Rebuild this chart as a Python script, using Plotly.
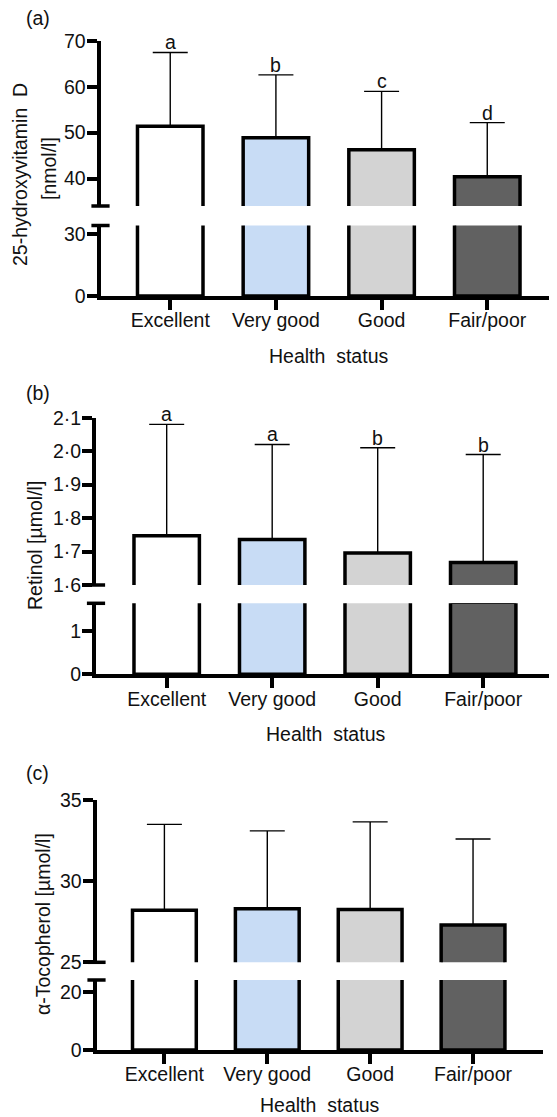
import plotly.graph_objects as go

W, H = 557, 1117
OFF = 8  # page body margin
FW, FH = W - OFF, H - OFF

categories = ["Excellent", "Very good", "Good", "Fair/poor"]
bar_colors = ["#FFFFFF", "#C8DCF5", "#D3D3D3", "#616161"]

# (a) 25-hydroxyvitamin D
vitd_mean = [51.4, 48.9, 46.3, 40.4]
vitd_sd = [16.1, 13.7, 12.7, 11.8]
vitd_letters = ["a", "b", "c", "d"]

# (b) Retinol
retinol_mean = [1.747, 1.736, 1.696, 1.667]
retinol_sd = [0.333, 0.284, 0.314, 0.323]
retinol_letters = ["a", "a", "b", "b"]

# (c) alpha-Tocopherol
toco_mean = [28.2, 28.3, 28.25, 27.3]
toco_sd = [5.3, 4.8, 5.4, 5.3]
toco_letters = ["", "", "", ""]

# axis ticks
a_up_ticks = [40, 50, 60, 70]
a_up_text = ["40", "50", "60", "70"]
a_lo_ticks = [0, 30]
a_lo_text = ["0", "30"]
a_breaks = [34, 34.3]   # upper-segment bottom, lower-segment top

b_up_ticks = [1.6, 1.7, 1.8, 1.9, 2.0, 2.1]
b_up_text = ["1·6", "1·7", "1·8", "1·9", "2·0", "2·1"]
b_lo_ticks = [0, 1]
b_lo_text = ["0", "1"]
b_breaks = [1.6, 1.64]

c_up_ticks = [25, 30, 35]
c_up_text = ["25", "30", "35"]
c_lo_ticks = [0, 20]
c_lo_text = ["0", "20"]
c_breaks = [25, 24.3]

FONT = "Liberation Sans, Arial, sans-serif"
FS = 19.5
INK = "#111111"


def px(x):
    return (x - OFF) / FW


def py(y):
    return 1 - (y - OFF) / FH


panels = [
    dict(mean=vitd_mean, sd=vitd_sd, letters=vitd_letters, breaks=a_breaks,
         up_range=[34, 70], lo_range=[0, 34.3],
         up_ticks=a_up_ticks, up_text=a_up_text, lo_ticks=a_lo_ticks, lo_text=a_lo_text,
         up_dom=[py(206), py(41)], lo_dom=[py(296), py(225.5)],
         xdom=[px(100.5), px(557)], xrange=[-0.66, 3.66],
         label="(a)", label_y=18, xtitle_y=355.5, xtitle_x=328.5,
         ytitles=[("25-hydroxyvitamin  D", 20, 175), ("[nmol/l]", 49, 169)]),
    dict(mean=retinol_mean, sd=retinol_sd, letters=retinol_letters, breaks=b_breaks,
         up_range=[1.6, 2.1], lo_range=[0, 1.64],
         up_ticks=b_up_ticks, up_text=b_up_text, lo_ticks=b_lo_ticks, lo_text=b_lo_text,
         up_dom=[py(585), py(417.7)], lo_dom=[py(674.3), py(603.3)],
         xdom=[px(96), px(556)], xrange=[-0.67, 3.69],
         label="(b)", label_y=393, xtitle_y=734, xtitle_x=325,
         ytitles=[("Retinol [µmol/l]", 35, 546)]),
    dict(mean=toco_mean, sd=toco_sd, letters=toco_letters, breaks=c_breaks,
         up_range=[25, 35], lo_range=[0, 24.3],
         up_ticks=c_up_ticks, up_text=c_up_text, lo_ticks=c_lo_ticks, lo_text=c_lo_text,
         up_dom=[py(962.3), py(800)], lo_dom=[py(1050), py(980)],
         xdom=[px(96.5), px(543)], xrange=[-0.66, 3.68],
         label="(c)", label_y=773, xtitle_y=1105, xtitle_x=319,
         ytitles=[("α-Tocopherol [µmol/l]", 43, 924)]),
]

fig = go.Figure()
layout = {}
annotations = []

for i, p in enumerate(panels):
    xn = "" if i == 0 else str(i + 1)
    yu = str(2 * i + 1) if i > 0 else ""
    yl = str(2 * i + 2)
    xref = "x" + xn
    yu_ref = "y" + yu
    yl_ref = "y" + yl
    idx = list(range(len(categories)))

    # lower segment bars
    fig.add_trace(go.Bar(
        x=idx, y=p["mean"], xaxis=xref, yaxis=yl_ref, width=0.62,
        marker=dict(color=bar_colors, line=dict(color="black", width=3.5)),
        showlegend=False, hoverinfo="skip"))
    # upper segment bars with error bars
    fig.add_trace(go.Bar(
        x=idx, y=p["mean"], xaxis=xref, yaxis=yu_ref, width=0.62,
        marker=dict(color=bar_colors, line=dict(color="black", width=3.5)),
        error_y=dict(type="data", array=p["sd"], arrayminus=[0] * len(p["sd"]),
                     symmetric=False, color="black", thickness=1.4, width=17.5),
        showlegend=False, hoverinfo="skip"))
    # axis-break end caps
    fig.add_trace(go.Scatter(
        x=[p["xrange"][0]], y=[p["breaks"][0]], xaxis=xref, yaxis=yu_ref,
        mode="markers", cliponaxis=False, hoverinfo="skip", showlegend=False,
        marker=dict(symbol="line-ew", size=13, line=dict(color="black", width=3.5))))
    fig.add_trace(go.Scatter(
        x=[p["xrange"][0]], y=[p["breaks"][1]], xaxis=xref, yaxis=yl_ref,
        mode="markers", cliponaxis=False, hoverinfo="skip", showlegend=False,
        marker=dict(symbol="line-ew", size=13, line=dict(color="black", width=3.5))))

    layout["xaxis" + xn] = dict(
        domain=p["xdom"], range=p["xrange"], anchor="y" + yl, automargin=False,
        tickmode="array", tickvals=idx, ticktext=categories,
        showline=True, linewidth=4, linecolor="black",
        ticks="outside", ticklen=10, tickwidth=3.5, tickcolor="black",
        ticklabelstandoff=-6,
        showgrid=False, zeroline=False, fixedrange=True,
        tickfont=dict(family=FONT, size=FS, color=INK))
    common_y = dict(anchor=xref, showline=True, linewidth=4, linecolor="black",
                    ticks="outside", ticklen=10, tickwidth=3.5, tickcolor="black",
                    showgrid=False, zeroline=False, fixedrange=True, tickmode="array",
                    automargin=False, ticklabelstandoff=-3,
                    tickfont=dict(family=FONT, size=FS, color=INK))
    layout["yaxis" + yu] = dict(common_y, domain=p["up_dom"], range=p["up_range"],
                                tickvals=p["up_ticks"], ticktext=p["up_text"])
    layout["yaxis" + yl] = dict(common_y, domain=p["lo_dom"], range=p["lo_range"],
                                tickvals=p["lo_ticks"], ticktext=p["lo_text"])

    for j, lt in enumerate(p["letters"]):
        if lt:
            annotations.append(dict(
                x=j, y=p["mean"][j] + p["sd"][j], xref=xref, yref=yu_ref,
                text=lt, showarrow=False, yanchor="bottom", yshift=-3,
                font=dict(family=FONT, size=FS, color=INK)))

    annotations.append(dict(x=px(24), y=py(p["label_y"]), xref="paper", yref="paper",
                            text=p["label"], showarrow=False, xanchor="left", yanchor="middle",
                            font=dict(family=FONT, size=FS, color=INK)))
    annotations.append(dict(x=px(p["xtitle_x"]), y=py(p["xtitle_y"]), xref="paper", yref="paper",
                            text="Health  status", showarrow=False, xanchor="center",
                            yanchor="middle", font=dict(family=FONT, size=FS, color=INK)))
    for (t, tx, ty) in p["ytitles"]:
        annotations.append(dict(x=px(tx), y=py(ty), xref="paper", yref="paper",
                                text=t, showarrow=False, textangle=-90,
                                xanchor="center", yanchor="middle",
                                font=dict(family=FONT, size=FS, color=INK)))

fig.update_layout(**layout)
fig.update_layout(
    width=FW, height=FH, margin=dict(l=0, r=0, t=0, b=0, pad=0, autoexpand=False),
    paper_bgcolor="white", plot_bgcolor="white",
    annotations=annotations, barmode="overlay", showlegend=False)

fig.write_html("out.html", config={"displayModeBar": False})
